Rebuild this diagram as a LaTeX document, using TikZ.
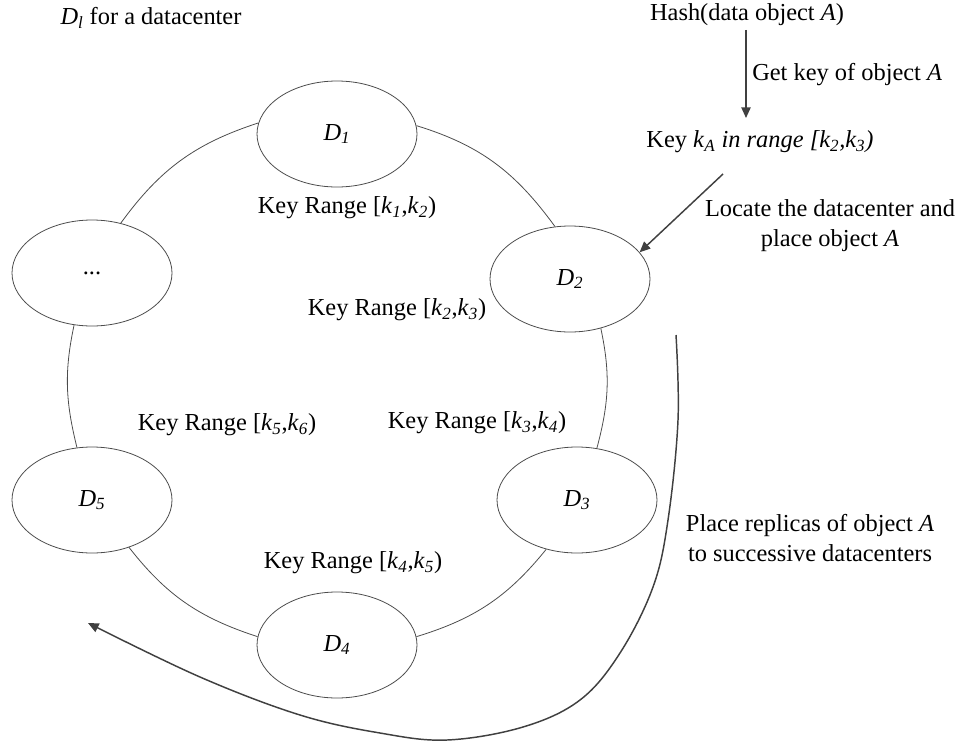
\documentclass[tikz,border=0pt]{standalone}
\usepackage{fontspec}
\setmainfont{Liberation Serif}
\usetikzlibrary{shapes.geometric,arrows.meta}
\newcommand{\kk}[1]{\textit{k}\textsubscript{\textit{#1}}}
\newcommand{\dd}[1]{\textit{D}\textsubscript{\textit{#1}}}
\begin{document}
\begin{tikzpicture}[x=0.75pt,y=0.75pt,
  every node/.style={font=\fontsize{18.3}{22.5}\selectfont, inner sep=0pt},
  dc/.style={ellipse, draw=black!70, line width=0.6pt, minimum width=120pt, minimum height=79.5pt},
  ring/.style={draw=black!70, line width=0.6pt},
  lbl/.style={align=center},
  arr/.style={draw=black!75, line width=1.1pt, -{Triangle[length=8pt,width=7pt]}}]
\useasboundingbox (0,0) rectangle (962,-742);

% datacenters
\node[dc] (d1) at (337,-134) {\dd{1}};
\node[dc] (d2) at (570,-279) {\dd{2}};
\node[dc] (d3) at (577,-500) {\dd{3}};
\node[dc] (d4) at (337,-645) {\dd{4}};
\node[dc] (d5) at (92,-500) {\dd{5}};
\node[dc] (dots) at (92,-273) {...};

% ring connectors
\draw[ring] (d1.6) to[out=-17, in=126] (d2.106);
\draw[ring] (d2.-58) to[out=-78, in=75] (d3.69);
\draw[ring] (d3.238) to[out=231, in=17] (d4.6);
\draw[ring] (d4.174) to[out=162, in=-52] (d5.-52);
\draw[ring] (d5.106) to[out=104, in=-102] (dots.-109);
\draw[ring] (dots.60) to[out=54, in=198] (d1.172);

% key range labels
\node (kr12) at (347,-208) {Key Range [\kk{1},\kk{2})};
\node (kr23) at (397,-310) {Key Range [\kk{2},\kk{3})};
\node (kr34) at (477,-423) {Key Range [\kk{3},\kk{4})};
\node (kr56) at (227,-425) {Key Range [\kk{5},\kk{6})};
\node (kr45) at (353,-563) {Key Range [\kk{4},\kk{5})};

% title
\node (title) at (151,-18) {\textit{D}\textsubscript{\textit{l}} for a datacenter};

% hashing
\node (hash) at (747,-15) {Hash(data object \textit{A})};
\node (key) at (760,-142) {Key \textit{k}\textsubscript{\textit{A}} \textit{in range [k\textsubscript{2},k\textsubscript{3})}};
\coordinate (hs) at (746,-30);
\coordinate (ke) at (746,-118);
\draw[arr] (hs) -- (ke);
\node[anchor=west] (getkey) at (752,-75) {Get key of object \textit{A}};

% locate
\node[lbl] (locate) at (830,-226) {Locate the datacenter and\\place object \textit{A}};
\coordinate (ls) at (723,-174);
\draw[arr] (ls) -- (d2.21);

% replicas
\node[lbl] (replicas) at (810,-538) {Place replicas of object \textit{A}\\to successive datacenters};
\draw[arr] plot[smooth, tension=0.6] coordinates {(676,-335) (678,-420) (668,-520) (653,-587) (620,-653) (580,-700) (523,-727) (447,-740) (380,-733) (300,-715) (200,-677) (88,-623)};
\end{tikzpicture}
\end{document}
